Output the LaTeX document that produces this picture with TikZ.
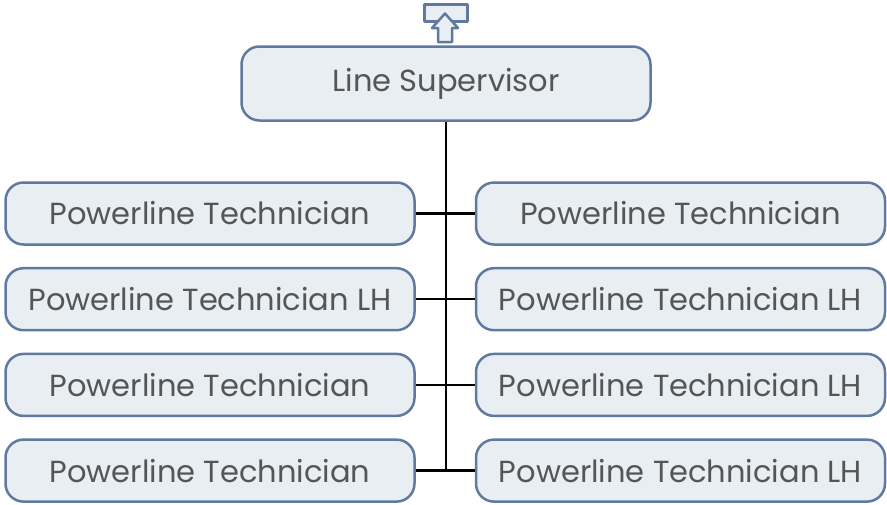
\documentclass[tikz,border=0pt]{standalone}
\usepackage{xcolor}
\usepackage{fontspec}
\setmainfont{Poppins}
\usepackage{tikz}
\usetikzlibrary{positioning}
\definecolor{boxfill}{HTML}{E9EEF2}
\definecolor{boxline}{HTML}{5F79A0}
\definecolor{boxtext}{HTML}{555555}
\tikzstyle{role} = [draw=boxline, fill=boxfill, rectangle, 
    rounded corners=18pt, line width=2.5pt, 
    minimum width=409pt, minimum height=62pt, 
    text=boxtext, font=\fontsize{30.5}{36}\selectfont]
\tikzstyle{head} = [role, minimum height=74pt]
\tikzstyle{link} = [line width=2.5pt, black]
\tikzstyle{upmark} = [draw=boxline, fill=boxfill, line width=2.5pt, line join=round]

\begin{document}
\begin{tikzpicture}[x=1pt, y=-1pt, node distance=21.2pt]
            \useasboundingbox (0,0) rectangle (887,504);
            % supervisor and up marker
            \node [head] (sup) at (446,83.5) 
            {Line Supervisor};
            \draw [upmark] (424.5,4.5) rectangle (467.5,21.5);
            \draw [upmark] (445,13.5) -- (458,28) -- (452,28) -- (452,42) 
            -- (438,42) -- (438,28) -- (432,28) -- cycle;
            % left column
            \node [role] (techA) at (210,213.5) 
            {Powerline Technician};
            \node [role, below=of techA] (lhA) 
            {Powerline Technician LH};
            \node [role, below=of lhA] (techB) 
            {Powerline Technician};
            \node [role, below=of techB] (techC) 
            {Powerline Technician};
            % right column
            \node [role, right=59pt of techA] (techD) 
            {Powerline Technician};
            \node [role, below=of techD] (lhB) 
            {Powerline Technician LH};
            \node [role, below=of lhB] (lhC) 
            {Powerline Technician LH};
            \node [role, below=of lhC] (lhD) 
            {Powerline Technician LH};
            % connectors
            \coordinate (trunk) at (sup.south |- techC.east);
            \draw [link] (sup.south) -- (trunk);
            \draw [link] (techA) -- (techD);
            \draw [link] (lhA) -- (lhB);
            \draw [link] (techB) -- (lhC);
            \draw [link] (techC) -- (lhD);
        \end{tikzpicture}
\end{document}
